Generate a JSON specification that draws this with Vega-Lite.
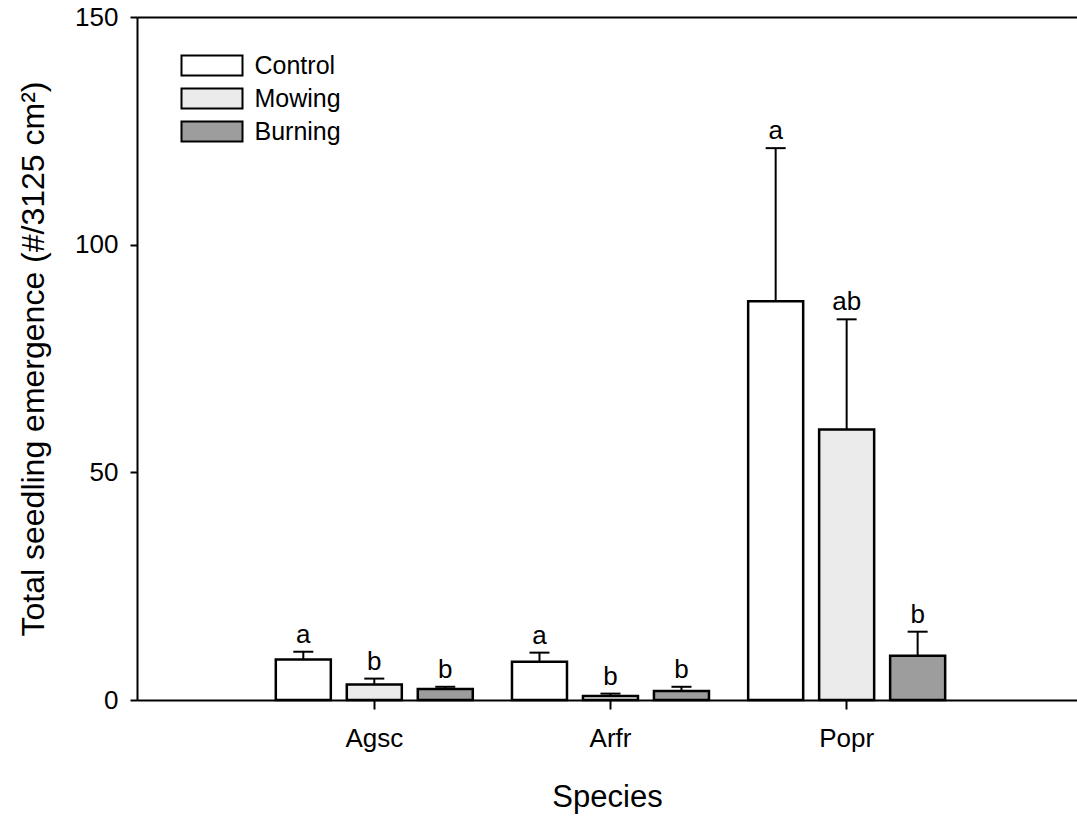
{
  "$schema": "https://vega.github.io/schema/vega-lite/v6.json",
  "width": 940,
  "height": 683,
  "autosize": {"type": "none"},
  "padding": {"left": 137, "top": 17, "right": 0, "bottom": 117},
  "background": "white",
  "config": {
    "view": {"stroke": null},
    "font": "Liberation Sans",
    "axis": {"grid": false, "domainColor": "black", "domainWidth": 2, "tickColor": "black", "tickWidth": 2, "labelColor": "black", "titleColor": "black", "titleFontWeight": "normal"}
  },
  "data": {
    "values": [
      {"species": "Agsc", "treatment": "Control", "mean": 8.9, "upper": 10.6, "letter": "a"},
      {"species": "Agsc", "treatment": "Mowing", "mean": 3.4, "upper": 4.7, "letter": "b"},
      {"species": "Agsc", "treatment": "Burning", "mean": 2.4, "upper": 2.9, "letter": "b"},
      {"species": "Arfr", "treatment": "Control", "mean": 8.4, "upper": 10.4, "letter": "a"},
      {"species": "Arfr", "treatment": "Mowing", "mean": 0.9, "upper": 1.4, "letter": "b"},
      {"species": "Arfr", "treatment": "Burning", "mean": 2.0, "upper": 2.9, "letter": "b"},
      {"species": "Popr", "treatment": "Control", "mean": 87.6, "upper": 121.2, "letter": "a"},
      {"species": "Popr", "treatment": "Mowing", "mean": 59.4, "upper": 83.6, "letter": "ab"},
      {"species": "Popr", "treatment": "Burning", "mean": 9.7, "upper": 15.0, "letter": "b"}
    ]
  },
  "resolve": {"axis": {"x": "independent", "y": "independent"}},
  "layer": [
    {
      "mark": {"type": "rule", "stroke": "black", "strokeWidth": 2},
      "encoding": {
        "x": {"field": "species", "type": "nominal", "sort": ["Agsc", "Arfr", "Popr"],
              "scale": {"paddingInner": 0, "paddingOuter": 0.49, "align": 0.515},
              "axis": {"orient": "top", "ticks": false, "labels": false, "title": null}},
        "xOffset": {"field": "treatment", "sort": ["Control", "Mowing", "Burning"],
                    "scale": {"paddingInner": 0.225, "paddingOuter": 0.276}},
        "y": {"field": "mean", "type": "quantitative", "scale": {"domain": [0, 150], "nice": false},
              "axis": {"values": [0, 50, 100, 150], "tickSize": 7, "labelFontSize": 26, "labelPadding": 12,
                       "title": "Total seedling emergence (#/3125 cm²)", "titleFontSize": 32, "titlePadding": 24}},
        "y2": {"field": "upper"}
      }
    },
    {
      "mark": {"type": "tick", "orient": "horizontal", "size": 20, "thickness": 2, "color": "black", "opacity": 1},
      "encoding": {
        "x": {"field": "species", "type": "nominal", "sort": ["Agsc", "Arfr", "Popr"], "axis": null},
        "xOffset": {"field": "treatment", "sort": ["Control", "Mowing", "Burning"]},
        "y": {"field": "upper", "type": "quantitative", "axis": null}
      }
    },
    {
      "mark": {"type": "bar", "stroke": "black", "strokeWidth": 2.5, "fillOpacity": 1},
      "encoding": {
        "x": {"field": "species", "type": "nominal", "sort": ["Agsc", "Arfr", "Popr"],
              "axis": {"orient": "bottom", "tickSize": 9, "labelFontSize": 26, "labelAngle": 0, "labelPadding": 16,
                       "title": "Species", "titleFontSize": 31, "titlePadding": 31}},
        "xOffset": {"field": "treatment", "sort": ["Control", "Mowing", "Burning"]},
        "y": {"field": "mean", "type": "quantitative", "axis": null},
        "fill": {"field": "treatment", "type": "nominal", "sort": ["Control", "Mowing", "Burning"],
                 "scale": {"domain": ["Control", "Mowing", "Burning"], "range": ["#ffffff", "#ebebeb", "#9d9d9d"]},
                 "legend": {"orient": "none", "legendX": 62.5, "legendY": 36, "title": null,
                            "symbolType": "M-3.05,-1H3.05V1H-3.05Z", "symbolSize": 400,
                            "symbolStrokeColor": "black", "symbolStrokeWidth": 2, "symbolOpacity": 1,
                            "labelFontSize": 25, "labelColor": "black", "labelOffset": 30, "rowPadding": 4}}
      }
    },
    {
      "mark": {"type": "text", "baseline": "alphabetic", "align": "center", "dy": -9, "fontSize": 26, "color": "black"},
      "encoding": {
        "x": {"field": "species", "type": "nominal", "sort": ["Agsc", "Arfr", "Popr"], "axis": null},
        "xOffset": {"field": "treatment", "sort": ["Control", "Mowing", "Burning"]},
        "y": {"field": "upper", "type": "quantitative", "axis": null},
        "text": {"field": "letter"}
      }
    }
  ]
}
